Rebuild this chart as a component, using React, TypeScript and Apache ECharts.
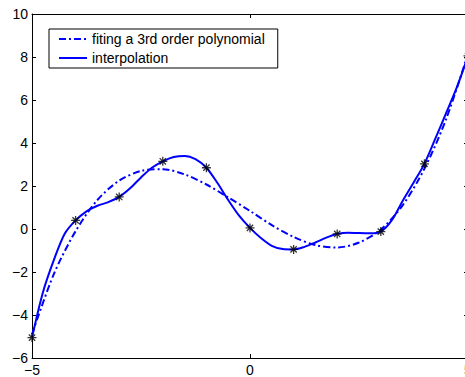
import React, { useEffect, useRef } from "react";
import * as echarts from "echarts";

// Sample points (asterisks)
const starX = [-5, -4, -3, -2, -1, 0, 1, 2, 3, 4, 5];
const starY = [-5.05, 0.4, 1.49, 3.15, 2.85, 0.05, -0.95, -0.23, -0.12, 3.03, 8.05];

// Dash-dot curve: 3rd order polynomial fit
const fitX = [-5, -4.5, -4, -3.5, -3, -2.5, -2, -1.5, -1, -0.5, 0, 0.5, 1, 1.5, 2, 2.5, 3, 3.5, 4, 4.5, 5];
const fitY = [-4.9, -2.1, -0.1, 1.35, 2.25, 2.7, 2.78, 2.54, 2.07, 1.47, 0.84, 0.18, -0.37, -0.75, -0.86, -0.63, -0.03, 1.1, 2.8, 5.12, 8.15];

// Solid curve: interpolation
const interpX = [
  -5, -4.75, -4.5, -4.25, -4, -3.75, -3.5, -3.25, -3, -2.75, -2.5, -2.25, -2, -1.75, -1.5, -1.25, -1,
  -0.75, -0.5, -0.25, 0, 0.25, 0.5, 0.75, 1, 1.25, 1.5, 1.75, 2, 2.25, 2.5, 2.75, 3, 3.25, 3.5, 3.75,
  4, 4.25, 4.5, 4.75, 5,
];
const interpY = [
  -5.05, -2.95, -1.45, -0.22, 0.4, 0.82, 1.08, 1.25, 1.49, 1.89, 2.4, 2.85, 3.15, 3.35, 3.4, 3.25, 2.85,
  2.15, 1.35, 0.62, 0.05, -0.42, -0.78, -0.93, -0.95, -0.83, -0.63, -0.4, -0.23, -0.17, -0.19, -0.2, -0.12,
  0.4, 1.3, 2.15, 3.03, 4.2, 5.4, 6.62, 8.05,
];

const xTicks = { min: -5, max: 5, interval: 5 };
const yTicks = { min: -6, max: 10, interval: 2 };

const fitName = "fiting a 3rd order polynomial";
const interpName = "interpolation";

const FONT = "Liberation Sans, Arial, Helvetica, sans-serif";
const BLUE = "#0000ff";

const fmt = (v: number) => (v < 0 ? "\u2212" + Math.abs(v) : String(v));

const starPath =
  "path://M10,0 L10,20 M0,10 L20,10 M3,3 L17,17 M3,17 L17,3";

export default function App() {
  const ref = useRef<HTMLDivElement>(null);
  useEffect(() => {
    if (!ref.current) return;
    const chart = echarts.init(ref.current, null, { renderer: "svg" });
    const axisCommon = {
      type: "value" as const,
      axisLine: { show: true, onZero: false, lineStyle: { color: "#000", width: 1 } },
      axisTick: { show: true, inside: true, length: 4, lineStyle: { color: "#000" } },
      splitLine: { show: false },
    };
    chart.setOption({
      animation: false,
      backgroundColor: "#fff",
      grid: { left: 32, top: 14, width: 436, height: 344, containLabel: false },
      legend: {
        data: [fitName, interpName],
        orient: "vertical",
        left: 49,
        top: 29,
        padding: [3, 13, 3, 9],
        itemGap: 5,
        itemWidth: 28,
        itemHeight: 14,
        backgroundColor: "#fff",
        borderColor: "#000",
        borderWidth: 1,
        borderRadius: 0,
        itemStyle: { opacity: 0 },
        textStyle: { fontSize: 14, color: "#000", fontFamily: FONT },
      },
      xAxis: [
        {
          ...axisCommon,
          position: "bottom",
          ...xTicks,
          axisLabel: { show: true, fontSize: 14, color: "#000", fontFamily: FONT, margin: 5, formatter: fmt, showMaxLabel: true, showMinLabel: true },
        },
        {
          ...axisCommon,
          position: "top",
          ...xTicks,
          axisLabel: { show: false },
        },
      ],
      yAxis: [
        {
          ...axisCommon,
          position: "left",
          ...yTicks,
          axisLabel: { show: true, fontSize: 14, color: "#000", fontFamily: FONT, margin: 4, formatter: fmt },
        },
        {
          ...axisCommon,
          position: "right",
          ...yTicks,
          axisLabel: { show: false },
        },
      ],
      series: [
        {
          name: fitName,
          type: "line",
          data: fitX.map((x, i) => [x, fitY[i]]),
          smooth: 0.3,
          symbol: "none",
          lineStyle: { color: BLUE, width: 2, type: [7, 3, 2, 3] },
          itemStyle: { color: BLUE },
          z: 3,
        },
        {
          name: interpName,
          type: "line",
          data: interpX.map((x, i) => [x, interpY[i]]),
          smooth: 0.3,
          symbol: "none",
          lineStyle: { color: BLUE, width: 2, type: "solid" },
          itemStyle: { color: BLUE },
          z: 4,
        },
        {
          name: "data",
          type: "scatter",
          data: starX.map((x, i) => [x, starY[i]]),
          symbol: starPath,
          symbolSize: 9,
          itemStyle: { color: "none", borderColor: "#000", borderWidth: 1.3 },
          z: 5,
        },
      ],
    });
    return () => chart.dispose();
  }, []);
  return (
    <div style={{ position: "fixed", left: 0, top: 0, width: 465, height: 377, overflow: "hidden", background: "#fff" }}>
      <div ref={ref} style={{ width: 490, height: 377 }} />
    </div>
  );
}
